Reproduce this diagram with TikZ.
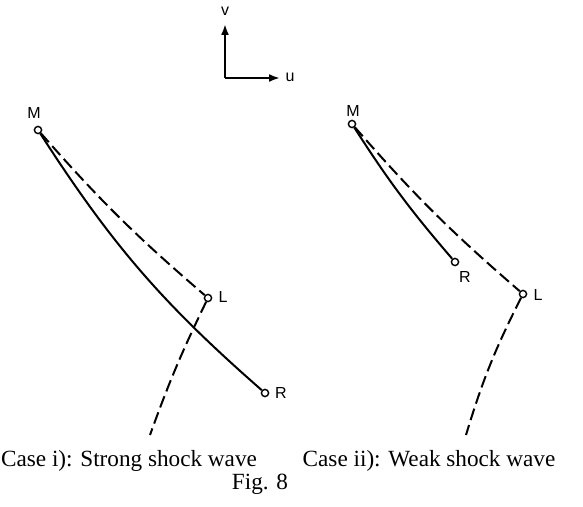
\documentclass[tikz,border=0pt]{standalone}
\usepackage{fontspec}
\setmainfont{Liberation Serif}
\newfontfamily\labfont{Liberation Sans}
\usepackage{tikz}
\usetikzlibrary{arrows.meta}

\begin{document}
\begin{tikzpicture}[x=0.5pt, y=-0.5pt,
  pt/.style={circle, draw, fill=white, line width=0.7pt, inner sep=0pt, minimum size=3.6pt},
  lab/.style={font=\labfont\fontsize{8}{9}\selectfont, inner sep=1pt},
  solidln/.style={line width=1pt},
  dashln/.style={line width=1pt, dash pattern=on 6pt off 2.6pt},
  axis/.style={line width=1pt, -{Latex[length=5.5pt, width=4pt]}},
  captext/.style={font=\fontsize{11.6}{13}\selectfont, inner sep=0pt}]
  \useasboundingbox (0,0) rectangle (583,507);
  % axes
  \coordinate (O) at (225,78);
  \coordinate (Vtip) at (225,24);
  \coordinate (Utip) at (280,78);
  \draw[axis] (O) -- (Vtip);
  \draw[axis] (O) -- (Utip);
  \node[lab] (v) at (225,11) {v};
  \node[lab] (u) at (290,77) {u};
  % case i)
  \node[pt] (M1) at (38,130) {};
  \node[pt] (L1) at (208,298) {};
  \node[pt] (R1) at (265,393) {};
  \coordinate (E1) at (150,435);
  \draw[solidln] (M1) to[bend right=8] (R1);
  \draw[dashln] (M1) to[bend right=4] (L1);
  \draw[dashln] (L1) to[bend right=3] (E1);
  \node[lab] (mM1) at (34,113) {M};
  \node[lab] (mL1) at (223,297) {L};
  \node[lab] (mR1) at (281,393) {R};
  % case ii)
  \node[pt] (M2) at (352,124) {};
  \node[pt] (L2) at (523,294) {};
  \node[pt] (R2) at (455,262) {};
  \coordinate (E2) at (466,435);
  \draw[solidln] (M2) to[bend right=4] (R2);
  \draw[dashln] (M2) to[bend right=4] (L2);
  \draw[dashln] (L2) to[bend right=5] (E2);
  \node[lab] (mM2) at (353,111) {M};
  \node[lab] (mL2) at (538,295) {L};
  \node[lab] (mR2) at (465,277) {R};
  % captions
  \node[captext] (c1) at (129,461) {Case i): Strong shock wave};
  \node[captext] (c2) at (429,461) {Case ii): Weak shock wave};
  \node[captext] (fig) at (260,484) {Fig. 8};
\end{tikzpicture}
\end{document}
